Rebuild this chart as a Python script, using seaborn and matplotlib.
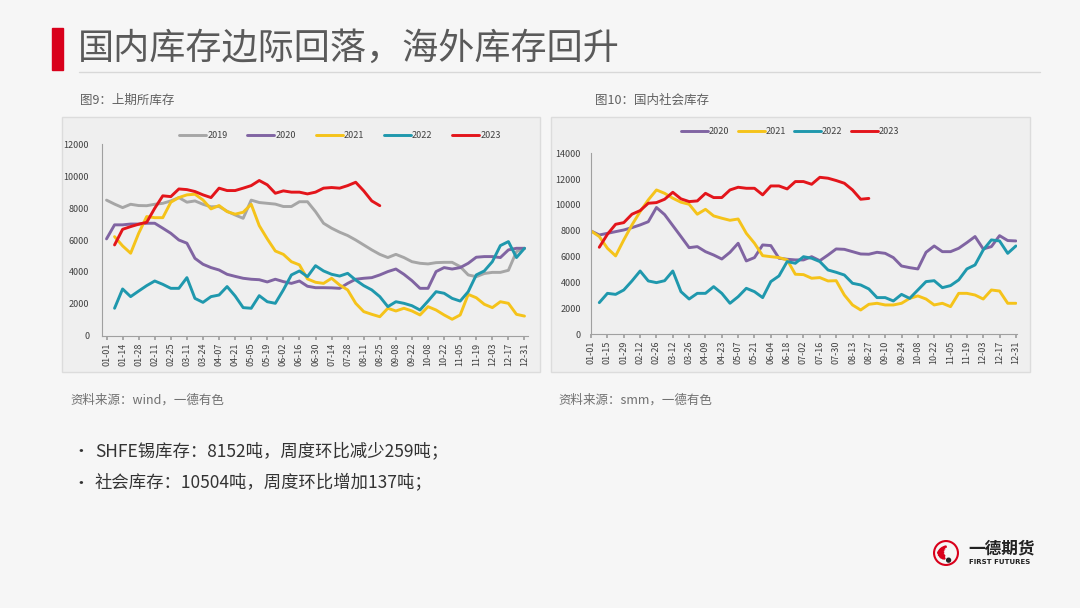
import matplotlib
matplotlib.use("Agg")
import matplotlib.pyplot as plt
import matplotlib.patches as mpatches
import numpy as np
import pandas as pd
import seaborn as sns

# ---------------- data ----------------
left_ticks = ["01-01","01-14","01-28","02-11","02-25","03-11","03-24","04-07","04-21","05-05",
              "05-19","06-02","06-16","06-30","07-14","07-28","08-11","08-25","09-08","09-22",
              "10-08","10-22","11-05","11-19","12-03","12-17","12-31"]
right_ticks = ["01-01","01-15","01-29","02-12","02-26","03-12","03-26","04-09","04-23","05-07",
               "05-21","06-04","06-18","07-02","07-16","07-30","08-13","08-27","09-10","09-24",
               "10-08","10-22","11-05","11-19","12-03","12-17","12-31"]

# SHFE inventory (weekly, week index 0..52)
shfe_2019 = [8500,8250,8030,8240,8160,8150,8240,8300,8450,8660,8370,8450,8240,8080,8100,7800,
             7570,7360,8500,8350,8300,8250,8100,8100,8400,8400,7780,7050,6740,6490,6280,6000,
             5690,5380,5100,4900,5100,4900,4640,4540,4500,4580,4600,4600,4330,3810,3700,3900,
             3970,3970,4100,5270,5480]
shfe_2020 = [6070,6950,6950,7000,7000,7050,7050,6740,6420,6000,5800,4850,4480,4270,4120,3850,
             3720,3600,3540,3510,3370,3540,3390,3280,3430,3100,3010,3010,3000,2970,3280,3540,
             3600,3640,3810,4020,4180,3850,3450,2970,2970,4020,4270,4180,4270,4540,4920,4960,
             4960,4900,5380,5480,5480]
shfe_2021 = [None,6210,5630,5170,6420,7470,7400,7400,8370,8660,8830,8870,8510,7950,8160,7780,
             7620,7740,8240,6900,6070,5310,5100,4640,4440,3560,3350,3280,3600,3180,2870,2030,
             1510,1340,1190,1720,1550,1720,1550,1300,1820,1610,1300,1030,1300,2590,2380,1970,
             1760,2130,2030,1340,1230]
shfe_2022 = [None,1720,2930,2450,2800,3140,3430,3220,2970,2970,3640,2340,2090,2450,2550,3080,
             2490,1760,1720,2510,2130,2030,2870,3810,4060,3700,4390,4060,3850,3740,3910,3490,
             3140,2870,2450,1820,2130,2030,1880,1610,2170,2760,2660,2340,2170,2760,3810,4060,
             4640,5650,5900,4900,5480]
shfe_2023 = [None,5690,6670,6840,6990,7110,7990,8770,8720,9200,9160,9040,8830,8660,9250,9100,
             9100,9250,9410,9730,9460,8930,9080,9000,9000,8890,9000,9250,9290,9250,9410,9620,
             9080,8450,8152]

# Domestic social inventory (weekly, week index 0..52)
soc_2020 = [7980,7670,7800,7930,8060,8240,8450,8700,9800,9250,8400,7550,6690,6770,6380,6120,
            5810,6330,7030,5660,5920,6900,6850,5870,5790,5740,5740,5990,5680,6120,6590,6560,
            6380,6200,6180,6330,6250,5920,5270,5140,5040,6330,6820,6380,6380,6640,7080,7550,
            6590,6770,7620,7240,7210]
soc_2021 = [7980,7550,6640,6050,7290,8450,9480,10390,11160,10900,10520,10210,10050,9280,9660,9150,
            8970,8810,8910,7800,7030,6070,5990,5920,5740,4630,4600,4320,4370,4110,4130,3020,
            2250,1860,2300,2380,2250,2250,2380,2760,2950,2710,2250,2380,2120,3150,3150,3020,
            2710,3410,3330,2380,2380]
soc_2022 = [None,2430,3150,3070,3410,4110,4880,4110,3980,4130,4880,3280,2710,3150,3150,3670,
            3150,2380,2890,3540,3280,2820,4060,4500,5610,5480,5990,5870,5610,4960,4780,4570,
            3930,3800,3490,2820,2820,2560,3070,2760,3410,4060,4130,3590,3750,4190,5040,5350,
            6510,7290,7210,6250,6820]
soc_2023 = [None,6720,7730,8500,8630,9280,9560,10130,10180,10440,10980,10470,10260,10310,10900,10570,
            10570,11160,11370,11290,11290,10780,11470,11470,11240,11810,11810,11600,12140,12070,11890,11680,
            11160,10440,10504]

colors = {"2019": "#a6a6a6", "2020": "#8064a2", "2021": "#f5c31a",
          "2022": "#1f98ad", "2023": "#e3151b"}

def long_df(series):
    rows = []
    for name, vals in series.items():
        for i, v in enumerate(vals):
            if v is not None:
                rows.append({"week": i, "value": v, "year": name})
    return pd.DataFrame(rows)

df_left = long_df({"2019": shfe_2019, "2020": shfe_2020, "2021": shfe_2021,
                   "2022": shfe_2022, "2023": shfe_2023})
df_right = long_df({"2020": soc_2020, "2021": soc_2021, "2022": soc_2022, "2023": soc_2023})

# ---------------- figure ----------------
sns.set_theme(style="white")
plt.rcParams["font.family"] = ["Noto Sans CJK SC", "DejaVu Sans"]
W, H = 1080, 608
fig = plt.figure(figsize=(10.8, 6.08), dpi=100)
fig.patch.set_facecolor("#f6f6f6")

def fx(px): return px / W
def fy(py): return 1 - py / H

# title
fig.patches.append(mpatches.Rectangle((fx(52), fy(70)), fx(11), 42 / H,
                                      transform=fig.transFigure, color="#d9001b", zorder=2))
fig.text(fx(78), fy(49), "国内库存边际回落，海外库存回升", fontsize=26, color="#5a5a5a",
         va="center", ha="left")
fig.add_artist(plt.Line2D([fx(79), fx(1040)], [fy(72), fy(72)], transform=fig.transFigure,
                          color="#d8d8d8", lw=1))

fig.text(fx(80), fy(100), "图9：上期所库存", fontsize=9, color="#606060", va="center")
fig.text(fx(595), fy(100), "图10：国内社会库存", fontsize=9, color="#606060", va="center")

# panels
for x0, x1 in [(62, 540), (551, 1030)]:
    fig.patches.append(mpatches.Rectangle((fx(x0), fy(372)), fx(x1 - x0), (372 - 117) / H,
                                          transform=fig.transFigure, facecolor="#efefef",
                                          edgecolor="#dcdcdc", lw=1, zorder=-5))

def style_axes(ax, ticks, xlim, ylim, ystep, ypad):
    ax.set_facecolor("none")
    ax.set_xlim(*xlim)
    ax.set_ylim(*ylim)
    ax.set_xticks(range(0, 53, 2))
    ax.set_xticklabels(ticks, rotation=90, fontsize=6.5, color="#404040")
    ax.set_yticks(np.arange(ylim[0], ylim[1] + 1, ystep))
    ax.set_yticklabels([f"{int(v)}" for v in np.arange(ylim[0], ylim[1] + 1, ystep)],
                       fontsize=6.5, color="#404040")
    for s in ["top", "right"]:
        ax.spines[s].set_visible(False)
    for s in ["left", "bottom"]:
        ax.spines[s].set_color("#a0a0a0")
        ax.spines[s].set_linewidth(0.8)
    ax.tick_params(axis="x", length=3, color="#a0a0a0", pad=2, direction="out", bottom=True)
    ax.tick_params(axis="y", length=0, pad=ypad)
    ax.set_xlabel("")
    ax.set_ylabel("")
    ax.grid(False)

# left chart
axL = fig.add_axes([fx(101.7), fy(335.7), fx(426), (335.7 - 144.3) / H])
sns.lineplot(data=df_left, x="week", y="value", hue="year", palette=colors, lw=2.1,
             ax=axL, legend=True)
style_axes(axL, left_ticks, (-0.6, 52.4), (0, 12000), 2000, 9)
h, l = axL.get_legend_handles_labels()
axL.legend(h, l, loc="center", bbox_to_anchor=(fx(340), fy(136)), bbox_transform=fig.transFigure,
           ncol=5, frameon=False, fontsize=6.5, handlelength=3.0, columnspacing=2.2,
           handletextpad=0.1, labelcolor="#404040")

# right chart
axR = fig.add_axes([fx(590.7), fy(334), fx(426), (334 - 153.3) / H])
sns.lineplot(data=df_right, x="week", y="value", hue="year", palette=colors, lw=2.1,
             ax=axR, legend=True)
style_axes(axR, right_ticks, (-0.05, 52.1), (0, 14000), 2000, 7)
h, l = axR.get_legend_handles_labels()
axR.legend(h, l, loc="center", bbox_to_anchor=(fx(790), fy(132)), bbox_transform=fig.transFigure,
           ncol=4, frameon=False, fontsize=6.5, handlelength=3.0, columnspacing=0.9,
           handletextpad=0.1, labelcolor="#404040")

# sources
fig.text(fx(70), fy(400), "资料来源：wind，一德有色", fontsize=9, color="#707070", va="center")
fig.text(fx(558), fy(400), "资料来源：smm，一德有色", fontsize=9, color="#707070", va="center")

# bullets
fig.text(fx(72), fy(451), "•", fontsize=12, color="#333333", va="center")
fig.text(fx(95), fy(451), "SHFE锡库存：8152吨，周度环比减少259吨；", fontsize=12.5,
         color="#333333", va="center")
fig.text(fx(72), fy(483), "•", fontsize=12, color="#333333", va="center")
fig.text(fx(95), fy(483), "社会库存：10504吨，周度环比增加137吨；", fontsize=12.5,
         color="#333333", va="center")

# logo
axLogo = fig.add_axes([fx(933), fy(566), fx(26), 26 / H])
axLogo.set_xlim(-1, 1); axLogo.set_ylim(-1, 1); axLogo.axis("off")
axLogo.add_patch(mpatches.Circle((0, 0), 0.92, fill=False, ec="#d9001b", lw=1.5))
for k in range(6):
    axLogo.add_patch(mpatches.Wedge((0.15, -0.3), 0.85 - 0.1 * k, 100 + k * 12, 160 + k * 10,
                                    width=0.08, color="#d9001b"))
axLogo.add_patch(mpatches.Circle((0.2, -0.55), 0.15, color="#222222"))
fig.text(fx(968), fy(548), "一德期货", fontsize=12, fontweight="bold", color="#222222",
         va="center")
fig.text(fx(969), fy(562), "FIRST FUTURES", fontsize=5, fontweight="bold", color="#222222",
         va="center", family=["DejaVu Sans"])

fig.savefig("out.png", dpi=100, facecolor=fig.get_facecolor())
